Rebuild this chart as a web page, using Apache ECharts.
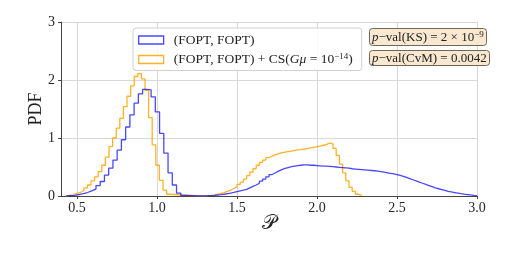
<!DOCTYPE html>
<html><head><meta charset="utf-8">
<script src="https://cdn.jsdelivr.net/npm/echarts@6/dist/echarts.min.js"></script>
<style>html,body{margin:0;padding:0;background:#fff}#c{width:506px;height:253px}</style>
</head><body><div id="c"></div>
<script>
// ---- data ----
const xTicks = [0.5, 1.0, 1.5, 2.0, 2.5, 3.0];
const yTicks = [0, 1, 2, 3];
const seriesNames = ['(FOPT, FOPT)', '(FOPT, FOPT) + CS(Gμ = 10^-14)'];
const pvalKS = '2 × 10^-9';
const pvalCvM = '0.0042';

// left-mode histograms
const blueLeftStart = 0.433, blueLeftWidth = 0.0265;
const blueLeftVals = [0.005,0.01,0.025,0.04,0.06,0.09,0.12,0.18,0.25,0.36,
  0.48,0.62,0.79,0.97,1.19,1.40,1.60,1.76,1.84,1.83,
  1.71,1.45,1.08,0.74,0.40,0.19,0.05,0.01];
const orangeLeftStart = 0.43, orangeLeftWidth = 0.0225;
const orangeLeftVals = [0.01,0.02,0.04,0.06,0.09,0.14,0.19,0.26,0.33,0.42,
  0.53,0.67,0.85,1.0,1.17,1.34,1.54,1.72,1.90,2.06,
  2.11,2.02,1.82,1.35,0.88,0.53,0.27,0.10,0.03];

// right-mode histograms
const blueRightStart = 1.26, blueRightWidth = 0.02;
const blueRightVals = [0.002,0.003,0.005,0.008,0.012,0.017,0.023,0.03,0.04,0.05,
  0.062,0.075,0.088,0.10,0.115,0.14,0.165,0.19,0.22,0.255,
  0.29,0.33,0.37,0.40,0.43,0.455,0.475,0.49,0.505,0.515,
  0.525,0.53,0.535,0.535,0.53,0.53,0.525,0.52,0.515,0.515,
  0.51,0.505,0.50,0.495,0.49,0.485,0.48,0.47,0.465,0.46,
  0.455,0.45,0.445,0.44,0.435,0.43,0.42,0.41,0.40,0.39,
  0.38,0.37,0.355,0.34,0.32,0.30,0.28,0.26,0.24,0.22,
  0.20,0.18,0.16,0.14,0.125,0.11,0.095,0.08,0.07,0.06,
  0.05,0.04,0.032,0.025,0.018,0.012,0.007];
const orangeRightStart = 1.26, orangeRightWidth = 0.02;
const orangeRightVals = [0.002,0.004,0.007,0.012,0.02,0.03,0.045,0.06,0.08,0.10,
  0.13,0.16,0.20,0.24,0.29,0.35,0.41,0.47,0.53,0.58,
  0.62,0.66,0.69,0.71,0.73,0.745,0.755,0.765,0.775,0.785,
  0.795,0.80,0.81,0.82,0.83,0.84,0.85,0.86,0.875,0.89,
  0.91,0.90,0.82,0.70,0.55,0.40,0.26,0.15,0.08,0.03,
  0.01];

// ---- build step outlines (matplotlib histtype='step') ----
function histPoints(start, width, vals) {
  const pts = [[start, 0]];
  vals.forEach((v, i) => pts.push([+(start + (i + 1) * width).toFixed(5), v]));
  pts.push([+(start + vals.length * width).toFixed(5), 0]);
  return pts;
}
const blueData = histPoints(blueLeftStart, blueLeftWidth, blueLeftVals)
  .concat(histPoints(blueRightStart, blueRightWidth, blueRightVals));
const orangeData = histPoints(orangeLeftStart, orangeLeftWidth, orangeLeftVals)
  .concat(histPoints(orangeRightStart, orangeRightWidth, orangeRightVals));

const BLUE = 'rgba(0,0,255,0.72)';
const ORANGE = 'rgba(255,165,0,0.85)';
const SERIF = '"Liberation Serif", "DejaVu Serif", serif';

const chart = echarts.init(document.getElementById('c'), null, {renderer: 'canvas'});
chart.setOption({
  animation: false,
  backgroundColor: '#fff',
  grid: {left: 61, right: 29, top: 22, bottom: 57},
  xAxis: {
    type: 'value', min: 0.4, max: 3.0,
    name: '𝒫', nameLocation: 'middle', nameGap: 18, nameMoveOverlap: false,
    nameTextStyle: {fontFamily: SERIF, fontSize: 20, color: '#222'},
    axisLine: {show: true, onZero: false, lineStyle: {color: '#444', width: 1}},
    axisTick: {show: true, length: 3, customValues: xTicks, lineStyle: {color: '#444'}},
    axisLabel: {customValues: xTicks, formatter: v => v.toFixed(1), margin: 5,
      fontFamily: SERIF, fontSize: 14, color: '#262626'},
    splitLine: {show: true, lineStyle: {color: '#d8d8d8', width: 1}}
  },
  yAxis: {
    type: 'value', min: 0, max: 3, interval: 1,
    name: 'PDF', nameLocation: 'middle', nameGap: 16, nameMoveOverlap: false,
    nameTextStyle: {fontFamily: SERIF, fontSize: 18, color: '#222'},
    axisLine: {show: true, lineStyle: {color: '#444', width: 1}},
    axisTick: {show: true, length: 3, lineStyle: {color: '#444'}},
    axisLabel: {formatter: v => yTicks.includes(v) ? String(v) : '', margin: 6,
      fontFamily: SERIF, fontSize: 14, color: '#262626'},
    splitLine: {show: true, lineStyle: {color: '#d8d8d8', width: 1}}
  },
  legend: {
    orient: 'vertical', left: 133, top: 28,
    backgroundColor: 'rgba(255,255,255,0.85)', borderColor: '#d0d0d0', borderWidth: 1, borderRadius: 3,
    padding: [5, 9, 4, 5], itemGap: 5, itemWidth: 25, itemHeight: 8,
    data: [
      {name: seriesNames[0], icon: 'rect', itemStyle: {color: 'rgba(0,0,0,0)', borderColor: BLUE, borderWidth: 1.3}},
      {name: seriesNames[1], icon: 'rect', itemStyle: {color: 'rgba(0,0,0,0)', borderColor: ORANGE, borderWidth: 1.3}}
    ],
    formatter: function (name) {
      if (name === seriesNames[0]) return '{n|' + name + '}';
      return '{n|(FOPT, FOPT) + CS(}{i|Gμ}{n| = 10}{s|−14}{n|)}';
    },
    textStyle: {
      fontFamily: SERIF, fontSize: 13.5, color: '#222', padding: [0, 0, 0, 5],
      rich: {
        n: {fontFamily: SERIF, fontSize: 13.5, color: '#222', lineHeight: 15},
        i: {fontFamily: SERIF, fontSize: 13.5, fontStyle: 'italic', color: '#222', lineHeight: 15},
        s: {fontFamily: SERIF, fontSize: 9, color: '#222', lineHeight: 6, verticalAlign: 'top'}
      }
    }
  },
  title: [
    {
      left: 369, top: 28,
      text: '{i|p}{n|−val(KS) = 2 × 10}{s|−9}',
      backgroundColor: '#f8e8cf', borderColor: '#6e6658', borderWidth: 1, borderRadius: 3,
      padding: [2, 3, 2, 3],
      textStyle: {fontFamily: SERIF, fontSize: 13, fontWeight: 'normal', color: '#222',
        rich: {
          n: {fontFamily: SERIF, fontSize: 13, color: '#222', lineHeight: 15},
          i: {fontFamily: SERIF, fontSize: 13, fontStyle: 'italic', color: '#222', lineHeight: 15},
          s: {fontFamily: SERIF, fontSize: 9, color: '#222', lineHeight: 6, verticalAlign: 'top'}
        }}
    },
    {
      left: 369, top: 49,
      text: '{i|p}{n|−val(CvM) = ' + pvalCvM + '}',
      backgroundColor: '#f8e8cf', borderColor: '#6e6658', borderWidth: 1, borderRadius: 3,
      padding: [2, 3, 1, 3],
      textStyle: {fontFamily: SERIF, fontSize: 13, fontWeight: 'normal', color: '#222',
        rich: {
          n: {fontFamily: SERIF, fontSize: 13, color: '#222', lineHeight: 15},
          i: {fontFamily: SERIF, fontSize: 13, fontStyle: 'italic', color: '#222', lineHeight: 15}
        }}
    }
  ],
  series: [
    {name: seriesNames[0], type: 'line', step: 'start', data: blueData, showSymbol: false,
      lineStyle: {color: BLUE, width: 1.3}, itemStyle: {color: BLUE}, z: 3},
    {name: seriesNames[1], type: 'line', step: 'start', data: orangeData, showSymbol: false,
      lineStyle: {color: ORANGE, width: 1.3}, itemStyle: {color: ORANGE}, z: 2}
  ]
});
</script>
</body></html>
